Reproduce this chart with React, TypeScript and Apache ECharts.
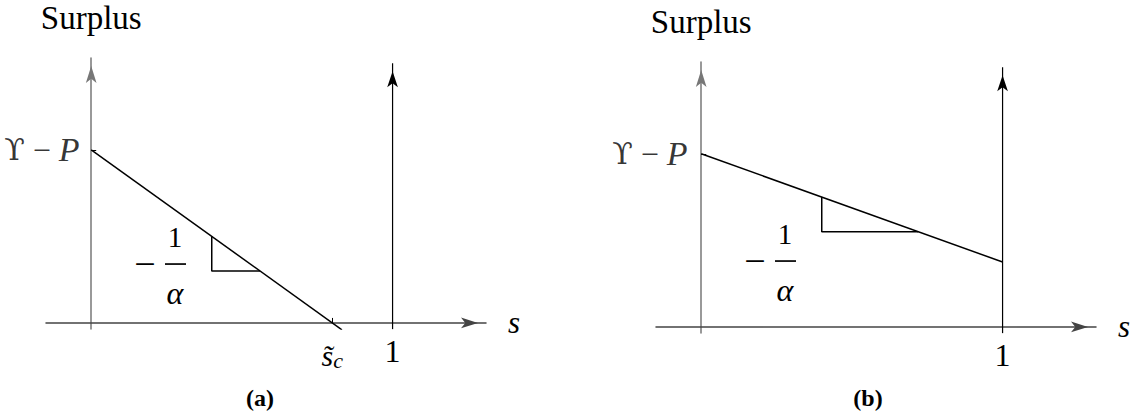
import React, { useEffect, useRef } from "react";
import * as echarts from "echarts";

// Surplus as a function of s, two cases: (a) surplus hits zero at s̃_c < 1, (b) stays positive up to s = 1.
const X_RANGE = [-0.15, 1.31];
const Y_RANGE = [-0.035, 1.53];

// intercept Υ − P, common to both panels
const intercept = [0, 1];

// panel (a): steep slope, crosses zero at s̃_c
const surplusA = [
  [0, 1],
  [0.832, -0.04],
];
const slopeMarkA = [
  [0.4, 0.5],
  [0.4, 0.3],
  [0.56, 0.3],
];
const sCritical = 0.8;

// panel (b): flat slope, ends at s = 1
const surplusB = [
  [0, 1],
  [1, 0.375],
];
const slopeMarkB = [
  [0.4, 0.75],
  [0.4, 0.55],
  [0.72, 0.55],
];

// vertical boundary at s = 1
const boundary = [
  [1, -0.036],
  [1, 1.5],
];

const SERIF = "'Liberation Serif', 'Times New Roman', serif";

function boundarySeries(gridIndex: number) {
  return {
    type: "line",
    xAxisIndex: gridIndex,
    yAxisIndex: gridIndex,
    data: [
      { value: boundary[0], symbol: "none" },
      { value: boundary[1], symbol: "arrow", symbolSize: [8, 16], symbolOffset: [0, 8] },
    ],
    lineStyle: { color: "#000", width: 1.2 },
    itemStyle: { color: "#000" },
    silent: true,
    z: 3,
  };
}

function plainLine(gridIndex: number, data: number[][]) {
  return {
    type: "line",
    xAxisIndex: gridIndex,
    yAxisIndex: gridIndex,
    data,
    showSymbol: false,
    symbol: "none",
    lineStyle: { color: "#000", width: 1.5 },
    silent: true,
    z: 4,
  };
}

// "Υ − P" written beside the intercept on the vertical axis
function interceptLabel(gridIndex: number, startX: number) {
  return {
    type: "scatter",
    xAxisIndex: gridIndex,
    yAxisIndex: gridIndex,
    data: [intercept],
    symbolSize: 0,
    silent: true,
    z: 6,
    label: {
      show: true,
      position: [startX, 0],
      align: "left",
      verticalAlign: "middle",
      formatter: () => "{u|ϒ}{o| − }{p|P}",
      rich: {
        u: { fontFamily: "'DejaVu Serif', serif", fontSize: 30, color: "#000" },
        o: { fontFamily: SERIF, fontSize: 32, color: "#000" },
        p: { fontFamily: SERIF, fontSize: 34, fontStyle: "italic", color: "#000" },
      },
    },
  };
}

function xAxis(gridIndex: number, labelValues: number[], tickValues: number[]) {
  return {
    type: "value",
    gridIndex,
    min: X_RANGE[0],
    max: X_RANGE[1],
    name: "s",
    nameLocation: "end",
    nameGap: 22,
    nameTextStyle: { fontFamily: SERIF, fontSize: 31, fontStyle: "italic", color: "#000" },
    axisLine: {
      onZero: true,
      symbol: ["none", "arrow"],
      symbolSize: [8, 17],
      symbolOffset: [0, -8],
      lineStyle: { color: "#444", width: 1.5 },
    },
    axisTick: {
      show: true,
      inside: true,
      length: 5,
      customValues: tickValues,
      lineStyle: { color: "#000", width: 1 },
    },
    splitLine: { show: false },
    axisLabel: {
      show: true,
      customValues: labelValues,
      margin: 6,
      fontFamily: SERIF,
      fontSize: 32,
      color: "#000",
      formatter: (v: number) => (v === 1 ? "{n|1}" : "{s|s̃}{c|c}"),
      rich: {
        n: { fontFamily: SERIF, fontSize: 32, color: "#000" },
        s: { fontFamily: SERIF, fontSize: 30, fontStyle: "italic", color: "#000", padding: [4, 0, 0, 0] },
        c: { fontFamily: SERIF, fontSize: 22, fontStyle: "italic", color: "#000", padding: [14, 0, 0, 0] },
      },
    },
  };
}

function yAxis(gridIndex: number) {
  return {
    type: "value",
    gridIndex,
    min: Y_RANGE[0],
    max: Y_RANGE[1],
    name: "Surplus",
    nameLocation: "end",
    nameGap: 24,
    nameTextStyle: { fontFamily: SERIF, fontSize: 33, color: "#000" },
    axisLine: {
      onZero: true,
      symbol: ["none", "arrow"],
      symbolSize: [8, 17],
      symbolOffset: [0, -8],
      lineStyle: { color: "#777", width: 1.5 },
    },
    axisTick: {
      show: true,
      inside: true,
      length: 5,
      customValues: [1],
      lineStyle: { color: "#000", width: 1 },
    },
    splitLine: { show: false },
    axisLabel: { show: false },
  };
}

// "− 1/α" slope annotation
function slopeLabel(cx: number, cy: number) {
  return [
    {
      type: "text",
      x: cx - 30,
      y: cy,
      style: { text: "−", font: "38px " + SERIF, fill: "#000", align: "center", verticalAlign: "middle" },
    },
    {
      type: "rect",
      shape: { x: cx - 10, y: cy - 0.8, width: 21, height: 1.7 },
      style: { fill: "#000" },
    },
    {
      type: "text",
      x: cx,
      y: cy - 27,
      style: { text: "1", font: "29px " + SERIF, fill: "#000", align: "center", verticalAlign: "middle" },
    },
    {
      type: "text",
      x: cx,
      y: cy + 29,
      style: { text: "α", font: "italic 32px " + SERIF, fill: "#000", align: "center", verticalAlign: "middle" },
    },
  ];
}

export default function App() {
  const ref = useRef<HTMLDivElement>(null);

  useEffect(() => {
    if (!ref.current) return;
    const chart = echarts.init(ref.current, null, { renderer: "svg" });
    chart.setOption({
      animation: false,
      backgroundColor: "#fff",
      grid: [
        { left: 46, top: 58, width: 440, height: 271, outerBoundsMode: "none", containLabel: false },
        { left: 656, top: 62, width: 440, height: 271, outerBoundsMode: "none", containLabel: false },
      ],
      xAxis: [xAxis(0, [sCritical, 1], [sCritical]), xAxis(1, [1], [])],
      yAxis: [yAxis(0), yAxis(1)],
      series: [
        plainLine(0, surplusA),
        plainLine(0, slopeMarkA),
        boundarySeries(0),
        interceptLabel(0, -87),
        plainLine(1, surplusB),
        plainLine(1, slopeMarkB),
        boundarySeries(1),
        interceptLabel(1, -89),
      ],
      graphic: [
        ...slopeLabel(175, 264),
        ...slopeLabel(785, 261),
        {
          type: "text",
          x: 260,
          y: 398,
          style: { text: "(a)", font: "bold 24px " + SERIF, fill: "#000", align: "center", verticalAlign: "middle" },
        },
        {
          type: "text",
          x: 868,
          y: 398,
          style: { text: "(b)", font: "bold 24px " + SERIF, fill: "#000", align: "center", verticalAlign: "middle" },
        },
      ],
    });
    return () => chart.dispose();
  }, []);

  return (
    <div
      ref={ref}
      style={{ position: "fixed", left: 0, top: 0, width: 1135, height: 413, background: "#fff" }}
    />
  );
}
